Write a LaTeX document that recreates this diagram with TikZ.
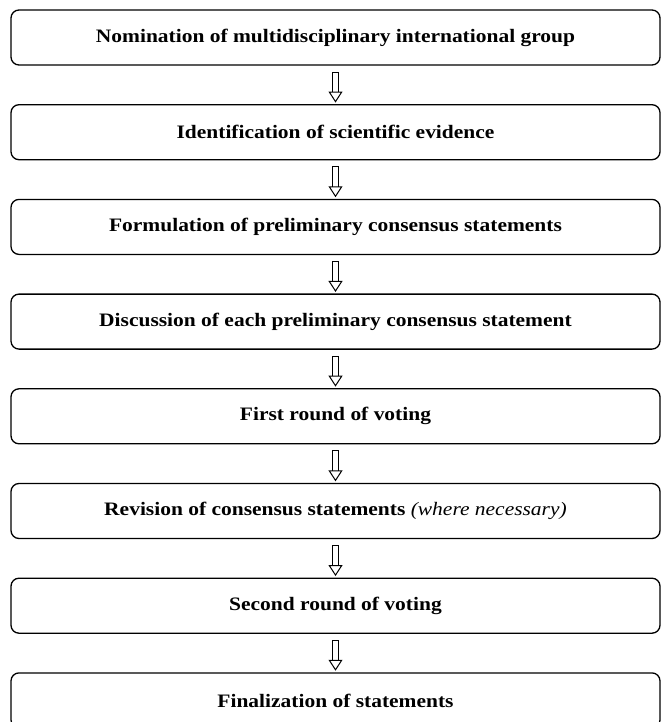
\documentclass[tikz,border=0pt]{standalone}
\usepackage{fontspec}
\setmainfont{Liberation Serif}
\usetikzlibrary{arrows.meta}
\begin{document}
\begin{tikzpicture}[x=1pt,y=1pt,
  stage/.style={draw,line width=1.3pt,rounded corners=8pt,minimum width=649pt,minimum height=55pt,
    font=\fontsize{19}{23}\selectfont\bfseries},
  flow/.style={double,double distance=4.4pt,line width=1pt,shorten <=6pt,shorten >=1.5pt,
    {Bar[width=6.4pt,line width=1pt]}-{Triangle[open,length=11pt,width=14pt,line width=1pt]}}]
\useasboundingbox(0,0)rectangle(662,-722);
\foreach \t [count=\i] in {Nomination of multidisciplinary international group,
  Identification of scientific evidence,
  Formulation of preliminary consensus statements,
  Discussion of each preliminary consensus statement,
  First round of voting,
  Revision of consensus statements {\mdseries\itshape(where necessary)},
  Second round of voting,
  Finalization of statements}
  \node[stage](b\i) at (335.5,{-37.5-94.7*(\i-1)}){\scalebox{1.13}[1]{\t}};
\foreach \i [count=\j from 2] in {1,...,7}
  \draw[flow](b\i)--(b\j);
\end{tikzpicture}
\end{document}
